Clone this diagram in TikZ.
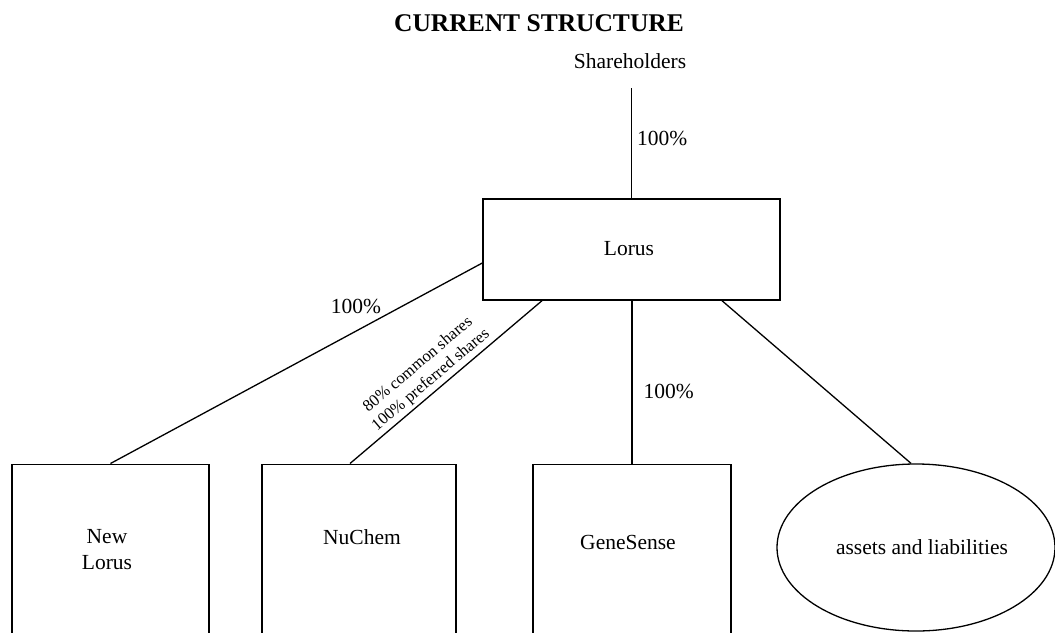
\documentclass[tikz,border=0pt]{standalone}
\usepackage{fontspec}
\setmainfont{Liberation Serif}
\usetikzlibrary{shapes.geometric,calc}
\begin{document}
\begin{tikzpicture}[x=1pt,y=-1pt,
  every node/.style={font=\fontsize{21.5}{26}\selectfont},
  conn/.style={draw=black,line width=1.3pt},
  box/.style={draw=black,line width=1.4pt,rectangle,inner sep=0pt},
  lbl/.style={inner sep=1pt},
  small/.style={font=\fontsize{16.5}{20}\selectfont,inner sep=1pt,align=center}]
\useasboundingbox (0,0) rectangle (1055,632);
\node[font=\bfseries\fontsize{25.5}{28}\selectfont] (title) at (539,23) {CURRENT STRUCTURE};
\node (sh) at (630,61) {Shareholders};
\node[box,minimum width=297pt,minimum height=101pt] (lorus) at (631.5,249.5) {};
\node at (629,249) {Lorus};
\node[box,minimum width=197pt,minimum height=200pt,anchor=north] (nl) at (110.5,463.5) {};
\node[align=center] at (107,550) {New\\Lorus};
\node[box,minimum width=194pt,minimum height=200pt,anchor=north] (nc) at (359,463.5) {};
\node at (362,537) {NuChem};
\node[box,minimum width=198pt,minimum height=200pt,anchor=north] (gs) at (632,463.5) {};
\node at (628,542) {GeneSense};
\node[ellipse,draw=black,line width=1.3pt,minimum width=278pt,minimum height=167pt,inner sep=0pt] (al) at (916,547.5) {};
\node at (922,547) {assets and liabilities};
\draw[conn] ([yshift=-16pt]sh.south -| lorus.north) -- node[lbl,pos=0.46,right=4pt] {100\%} (lorus.north);
\draw[conn] (nl.north) -- node[lbl,pos=0.66,above=16pt] {100\%} ($(lorus.west)+(0,13.5)$);
\draw[conn] ($(nc.north)+(-9,0)$) -- node[small,pos=0.46,sloped,above=2pt] {80\% common shares\\100\% preferred shares} ($(lorus.south)+(-89.5,0)$);
\draw[conn] (lorus.south -| gs.north) -- node[lbl,pos=0.56,right=10pt] {100\%} (gs.north);
\draw[conn] ($(lorus.south)+(90.5,0)$) -- ($(al.north)+(-5,0)$);
\end{tikzpicture}
\end{document}
